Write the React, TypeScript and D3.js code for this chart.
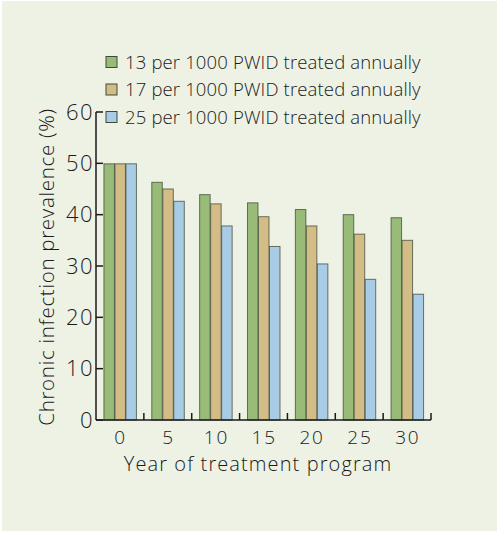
import React, { useEffect, useRef } from "react";
import * as d3 from "d3";

const years = ["0", "5", "10", "15", "20", "25", "30"];
const seriesNames = [
  "13 per 1000 PWID treated annually",
  "17 per 1000 PWID treated annually",
  "25 per 1000 PWID treated annually",
];
const rate13 = [50, 46.4, 44.0, 42.4, 41.1, 40.1, 39.5];
const rate17 = [50, 45.1, 42.2, 39.7, 37.9, 36.3, 35.1];
const rate25 = [50, 42.7, 37.9, 33.9, 30.5, 27.5, 24.6];
const yTicks = [0, 10, 20, 30, 40, 50, 60];
const colors = ["#98bb78", "#d4bc86", "#a8cce6"];

const W = 500;
const H = 534;
const FONT = "'Open Sans', Lato, sans-serif";

const App = () => {
  const ref = useRef<SVGSVGElement>(null);

  useEffect(() => {
    document.body.style.margin = "0";
    if (!ref.current) return;
    const svg = d3.select(ref.current);
    svg.selectAll("*").remove();

    const m = { left: 96, right: 431, top: 112, bottom: 420 };
    const series = [rate13, rate17, rate25];

    svg.append("rect")
      .attr("x", 2).attr("y", 1)
      .attr("width", 495).attr("height", 530)
      .attr("fill", "#edf2e5");

    const x = d3.scaleBand<string>().domain(years).range([m.left, m.right]);
    const xs = d3.scaleBand<number>().domain([0, 1, 2]).range([0, 33]);
    const y = d3.scaleLinear().domain([0, 60]).range([m.bottom, m.top]);

    // bars
    series.forEach((vals, si) => {
      svg.append("g")
        .selectAll("rect")
        .data(vals)
        .join("rect")
        .attr("x", (_, i) => x(years[i])! + x.bandwidth() / 2 - 16.5 + xs(si)! + 0.5)
        .attr("y", (d) => y(d) + 0.5)
        .attr("width", xs.bandwidth() - 0.5)
        .attr("height", (d) => y(0) - y(d) - 0.5)
        .attr("fill", colors[si])
        .attr("stroke", "#3d4a3a")
        .attr("stroke-opacity", 0.75)
        .attr("stroke-width", 1);
    });

    // y axis
    const ya = svg.append("g").attr("stroke", "#1a1a1a").attr("stroke-width", 1.5);
    ya.append("line")
      .attr("x1", m.left).attr("x2", m.left)
      .attr("y1", y(60)).attr("y2", y(0));
    ya.selectAll(".yt")
      .data(yTicks)
      .join("line")
      .attr("x1", m.left).attr("x2", m.left + 7)
      .attr("y1", (d) => y(d)).attr("y2", (d) => y(d));
    svg.append("g")
      .selectAll("text")
      .data(yTicks)
      .join("text")
      .attr("x", m.left - 2)
      .attr("y", (d) => y(d) + 7.5)
      .attr("text-anchor", "end")
      .attr("font-family", FONT)
      .attr("font-weight", 300)
      .attr("font-size", 22)
      .attr("letter-spacing", 1.5)
      .attr("fill", "#1a1a1a")
      .text((d) => d);

    // x axis
    const xa = svg.append("g").attr("stroke", "#1a1a1a").attr("stroke-width", 1.5);
    xa.append("line")
      .attr("x1", m.left).attr("x2", m.right)
      .attr("y1", m.bottom).attr("y2", m.bottom);
    xa.selectAll(".xt")
      .data(years.slice(1).concat(["end"]))
      .join("line")
      .attr("x1", (_, i) => m.left + x.step() * (i + 1))
      .attr("x2", (_, i) => m.left + x.step() * (i + 1))
      .attr("y1", m.bottom).attr("y2", m.bottom - 7);
    svg.append("g")
      .selectAll("text")
      .data(years)
      .join("text")
      .attr("x", (d) => x(d)! + x.bandwidth() / 2 + 0.75)
      .attr("y", 443.5)
      .attr("text-anchor", "middle")
      .attr("font-family", FONT)
      .attr("font-weight", 300)
      .attr("font-size", 19)
      .attr("letter-spacing", 1.8)
      .attr("fill", "#1a1a1a")
      .text((d) => d);

    svg.append("text")
      .attr("x", 258).attr("y", 471)
      .attr("text-anchor", "middle")
      .attr("font-family", FONT)
      .attr("font-weight", 300)
      .attr("font-size", 20)
      .attr("letter-spacing", 1.1)
      .attr("fill", "#1a1a1a")
      .text("Year of treatment program");

    svg.append("text")
      .attr("transform", "translate(54,267) rotate(-90)")
      .attr("text-anchor", "middle")
      .attr("font-family", FONT)
      .attr("font-weight", 300)
      .attr("font-size", 20.5)
      .attr("letter-spacing", 0.7)
      .attr("fill", "#1a1a1a")
      .text("Chronic infection prevalence (%)");

    // legend
    const lg = svg.append("g")
      .selectAll("g")
      .data(seriesNames)
      .join("g")
      .attr("transform", (_, i) => `translate(106,${62 + i * 27.5})`);
    lg.append("rect")
      .attr("x", 0).attr("y", -5.5)
      .attr("width", 11).attr("height", 11)
      .attr("fill", (_, i) => colors[i])
      .attr("stroke", "#3d4a3a")
      .attr("stroke-width", 1);
    lg.append("text")
      .attr("x", 19).attr("y", 6.5)
      .attr("font-family", FONT)
      .attr("font-weight", 300)
      .attr("font-size", 18.5)
      .attr("letter-spacing", 0.15)
      .attr("fill", "#1a1a1a")
      .text((d) => d);
  }, []);

  return <svg ref={ref} width={W} height={H} style={{ display: "block" }} />;
};

export default App;
